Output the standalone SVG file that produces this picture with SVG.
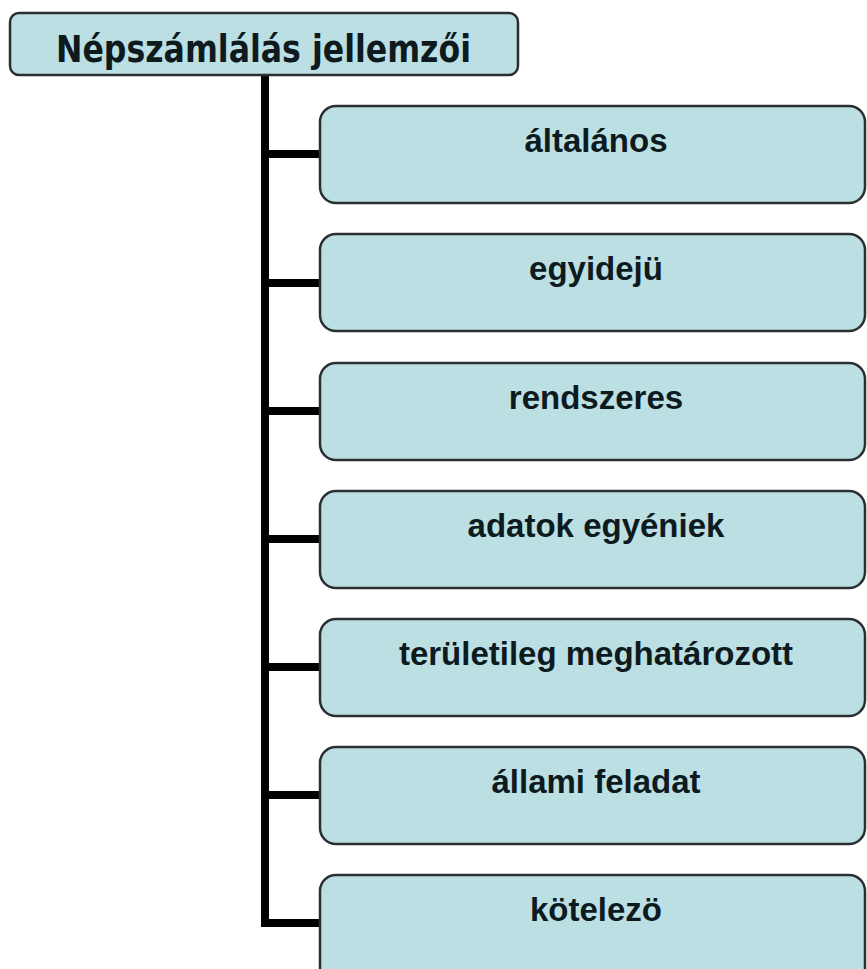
<svg xmlns="http://www.w3.org/2000/svg" width="867" height="969" viewBox="0 0 867 969">
<style>
.box{fill:#bcdfe3;stroke:#2b2f30;stroke-width:2.5}
.lbl{font-family:"Liberation Sans",Arial,sans-serif;font-weight:bold;font-size:33px;fill:#0d1a1e;text-anchor:middle}
.ttl{font-family:"DejaVu Sans","Liberation Sans",sans-serif;font-weight:bold;font-size:37px;fill:#0d1a1e}
.con{stroke:#000;stroke-width:8;fill:none}
</style>
<rect width="867" height="969" fill="#fff"/>
<g id="connectors">
<path class="con" d="M265 75 V923 H320"/>
<path class="con" d="M265 154 H320 M265 283 H320 M265 411 H320 M265 539 H320 M265 667 H320 M265 795 H320"/>
</g>
<g id="root">
<rect class="box" x="10" y="13" width="508" height="62" rx="9"/>
<text class="ttl" x="56" y="62" textLength="415" lengthAdjust="spacingAndGlyphs">Népszámlálás jellemzői</text>
</g>
<g id="n1"><rect class="box" x="320" y="106" width="545" height="97" rx="16"/><text class="lbl" x="596" y="152">általános</text></g>
<g id="n2"><rect class="box" x="320" y="234" width="545" height="97" rx="16"/><text class="lbl" x="596" y="280">egyidejü</text></g>
<g id="n3"><rect class="box" x="320" y="363" width="545" height="97" rx="16"/><text class="lbl" x="596" y="409">rendszeres</text></g>
<g id="n4"><rect class="box" x="320" y="491" width="545" height="97" rx="16"/><text class="lbl" x="596" y="537">adatok egyéniek</text></g>
<g id="n5"><rect class="box" x="320" y="619" width="545" height="97" rx="16"/><text class="lbl" x="596" y="665">területileg meghatározott</text></g>
<g id="n6"><rect class="box" x="320" y="747" width="545" height="97" rx="16"/><text class="lbl" x="596" y="793">állami feladat</text></g>
<g id="n7"><rect class="box" x="320" y="875" width="545" height="110" rx="16"/><text class="lbl" x="596" y="921">kötelezö</text></g>
</svg>
